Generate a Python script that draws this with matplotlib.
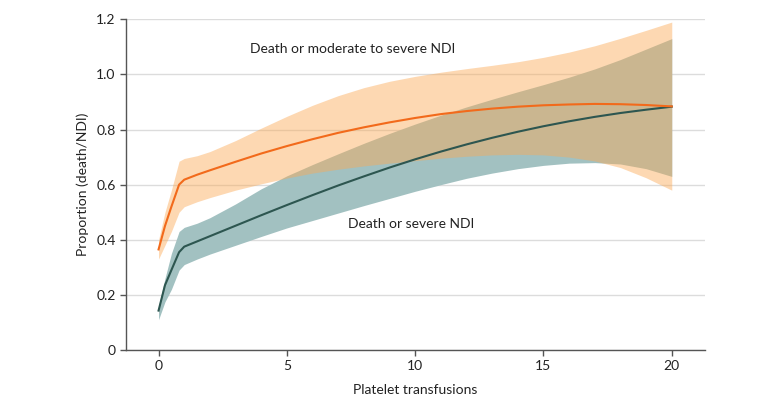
import matplotlib
matplotlib.use("Agg")
import matplotlib.pyplot as plt
import numpy as np

plt.rcParams['font.family'] = ['Lato', 'DejaVu Sans']

# Platelet transfusions (x) at which curves were read
x = [0, 0.25, 0.5, 0.8, 1, 1.5, 2, 3, 4, 5, 6, 7, 8, 9, 10,
     11, 12, 13, 14, 15, 16, 17, 18, 19, 20]

# Death or moderate to severe NDI
mod_mid = [0.365, 0.45, 0.52, 0.60, 0.618, 0.636, 0.652, 0.683, 0.713, 0.740,
           0.765, 0.788, 0.808, 0.826, 0.842, 0.856, 0.867, 0.876, 0.883, 0.888,
           0.891, 0.893, 0.892, 0.889, 0.884]
mod_hi = [0.40, 0.50, 0.58, 0.685, 0.695, 0.705, 0.72, 0.76, 0.805, 0.848,
          0.888, 0.923, 0.952, 0.975, 0.993, 1.008, 1.021, 1.033, 1.046, 1.062,
          1.081, 1.104, 1.131, 1.160, 1.19]
mod_lo = [0.33, 0.38, 0.43, 0.50, 0.52, 0.538, 0.553, 0.58, 0.603, 0.624,
          0.642, 0.656, 0.668, 0.678, 0.687, 0.696, 0.703, 0.708, 0.710, 0.708,
          0.700, 0.686, 0.662, 0.625, 0.58]

# Death or severe NDI
sev_mid = [0.143, 0.235, 0.29, 0.355, 0.375, 0.394, 0.413, 0.451, 0.489, 0.526,
           0.562, 0.597, 0.630, 0.662, 0.692, 0.720, 0.746, 0.770, 0.792, 0.812,
           0.830, 0.846, 0.860, 0.872, 0.883]
sev_hi = [0.16, 0.26, 0.35, 0.43, 0.445, 0.46, 0.48, 0.53, 0.585, 0.632,
          0.673, 0.712, 0.750, 0.786, 0.820, 0.852, 0.882, 0.910, 0.937, 0.963,
          0.990, 1.020, 1.054, 1.092, 1.13]
sev_lo = [0.11, 0.175, 0.22, 0.29, 0.31, 0.33, 0.348, 0.38, 0.412, 0.443,
          0.470, 0.497, 0.524, 0.550, 0.576, 0.600, 0.623, 0.642, 0.658, 0.670,
          0.678, 0.680, 0.675, 0.658, 0.63]

x_ticks = [0, 5, 10, 15, 20]
y_ticks = [0, 0.2, 0.4, 0.6, 0.8, 1.0, 1.2]
y_ticklabels = ['0', '0.2', '0.4', '0.6', '0.8', '1.0', '1.2']

fig = plt.figure(figsize=(7.8, 4.05), dpi=100)
ax = fig.add_axes([0.1615, 0.1358, 0.7425, 0.8165])

green_band = '#A2C1C1'
orange_band = '#FBA955'
green_line = '#2D5650'
orange_line = '#F26A1B'

ax.fill_between(x, sev_lo, sev_hi, color=green_band, lw=0, zorder=2)
ax.fill_between(x, mod_lo, mod_hi, color=orange_band, alpha=0.45, lw=0, zorder=3)
ax.plot(x, sev_mid, color=green_line, lw=1.5, zorder=4, solid_joinstyle='round')
ax.plot(x, mod_mid, color=orange_line, lw=1.5, zorder=5, solid_joinstyle='round')

ax.set_xlim(-1.27, 21.3)
ax.set_ylim(0, 1.2)
ax.set_xticks(x_ticks)
ax.set_yticks(y_ticks)
ax.set_yticklabels(y_ticklabels)
ax.yaxis.grid(True, color='#DCDCDC', lw=1.0, zorder=0)
ax.set_axisbelow(True)

for s in ['top', 'right']:
    ax.spines[s].set_visible(False)
for s in ['left', 'bottom']:
    ax.spines[s].set_color('#555555')
    ax.spines[s].set_linewidth(1.0)
ax.tick_params(axis='both', colors='#555555', labelcolor='#222222',
               labelsize=10, length=4, width=1.0, direction='out')

ax.set_xlabel('Platelet transfusions', fontsize=10, color='#222222', labelpad=8)
ax.set_ylabel('Proportion (death/NDI)', fontsize=10, color='#222222', labelpad=5)

ax.text(3.56, 1.092, 'Death or moderate to severe NDI', fontsize=10,
        color='#222222', va='center', ha='left', zorder=6)
ax.text(7.38, 0.457, 'Death or severe NDI', fontsize=10,
        color='#222222', va='center', ha='left', zorder=6)

fig.savefig('out.png', dpi=100)
